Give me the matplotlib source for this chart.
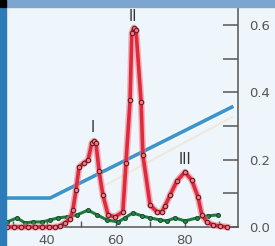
import matplotlib
matplotlib.use('Agg')
import matplotlib.pyplot as plt
from matplotlib.patches import Rectangle
from matplotlib.ticker import MultipleLocator

# fraction number vs absorbance
red_x = [28.4, 30.4, 32.5, 34.5, 36.5, 38.6, 40.6, 42.3, 43.8, 45.2, 46.7, 47.5, 48.4,
         49.3, 50.7, 51.9, 53.0, 53.6, 54.2, 55.1, 56.2, 57.7, 59.7, 62.0, 62.9, 64.1,
         64.6, 65.2, 65.8, 67.3, 67.8, 69.9, 71.9, 73.3, 74.2, 75.7, 77.7, 80.0, 82.0,
         83.8, 84.9, 86.4, 88.1, 90.1, 92.2]
red_y = [0.0, 0.0, 0.0, 0.0, 0.0, 0.0, 0.0, 0.0, 0.003, 0.012, 0.024, 0.050, 0.110,
         0.178, 0.190, 0.199, 0.249, 0.255, 0.249, 0.166, 0.095, 0.036, 0.030, 0.045,
         0.190, 0.377, 0.576, 0.591, 0.585, 0.371, 0.214, 0.065, 0.045, 0.045, 0.062,
         0.095, 0.137, 0.163, 0.139, 0.089, 0.036, 0.015, 0.006, 0.003, 0.0]

green_x = [28.4, 31.3, 33.6, 35.9, 38.6, 40.9, 43.2, 45.8, 48.7, 51.9, 54.5, 57.4,
           60.6, 62.6, 64.9, 67.5, 69.9, 72.8, 74.8, 77.1, 80.0, 83.5, 86.7, 89.6]
green_y = [0.015, 0.027, 0.012, 0.015, 0.015, 0.021, 0.027, 0.030, 0.036, 0.050, 0.036,
           0.021, 0.015, 0.027, 0.042, 0.033, 0.027, 0.021, 0.018, 0.027, 0.018, 0.027,
           0.033, 0.036]

# salt gradient
blue_x = [28.1, 40.9, 93.6]
blue_y = [0.086, 0.086, 0.356]
pale_x = [55.0, 93.6]
pale_y = [0.114, 0.326]

peak_names = ['I', 'II', 'III']
peak_x = [53.3, 64.9, 80.0]
peak_y = [0.294, 0.626, 0.199]

bg = '#eef5fb'
fig = plt.figure(figsize=(2.75, 2.46), dpi=100, facecolor=bg)
ax = fig.add_axes([6/275, 19/246, 232/275, 220/246], facecolor=bg)

ax.plot(pale_x, pale_y, color='#f2d9bd', lw=1.3, alpha=0.5, zorder=1)
ax.plot(blue_x, blue_y, color='#ffffff', lw=4.5, alpha=0.7, zorder=2)
ax.plot(blue_x, blue_y, color='#3b94cb', lw=2.6, zorder=3)
ax.plot(green_x, green_y, color='#1e7a3e', lw=2.2, marker='o', ms=2.8,
        mfc='#2f8a4a', mec='#14502a', mew=0.8, zorder=4, clip_on=False)
ax.plot(red_x, red_y, color='#f07a86', lw=4.8, alpha=0.55, zorder=5, clip_on=False)
ax.plot(red_x, red_y, color='#de2a3c', lw=2.6, marker='o', ms=3.2,
        mfc='#ee7c88', mec='#6b1a22', mew=0.8, zorder=6, clip_on=False)

for name, px, py in zip(peak_names, peak_x, peak_y):
    ax.text(px, py, name, ha='center', va='center', fontsize=10.5, color='#333333')

ax.set_xlim(28.1, 95.4)
ax.set_ylim(0, 0.653)

for s in ['top', 'left']:
    ax.spines[s].set_visible(False)
for s in ['right', 'bottom']:
    ax.spines[s].set_color('#555555')
    ax.spines[s].set_linewidth(1.1)

ax.yaxis.tick_right()
ax.set_yticks([0.0, 0.2, 0.4, 0.6])
ax.set_yticklabels(['0.0', '0.2', '0.4', '0.6'])
ax.yaxis.set_minor_locator(MultipleLocator(0.1))
ax.tick_params(axis='y', which='both', direction='in', length=11, width=1.1,
               color='#555555', pad=8, labelsize=9.5, labelcolor='#555555')

ax.set_xticks([40, 60, 80])
ax.xaxis.set_minor_locator(MultipleLocator(10))
ax.tick_params(axis='x', which='both', direction='in', length=4, width=1.0,
               color='#555555', pad=5, labelsize=9.5, labelcolor='#555555')

# frame bars around the cropped panel
fig.add_artist(Rectangle((0, 0), 6/275, 1, transform=fig.transFigure,
                         color='#2a7bb8', zorder=10))
fig.add_artist(Rectangle((0, 239/246), 1, 7/246, transform=fig.transFigure,
                         color='#7ca5d0', zorder=10))
fig.add_artist(Rectangle((0, 239/246), 6/275, 7/246, transform=fig.transFigure,
                         color='#000000', zorder=11))

fig.savefig('out.png', dpi=100, facecolor=bg)
